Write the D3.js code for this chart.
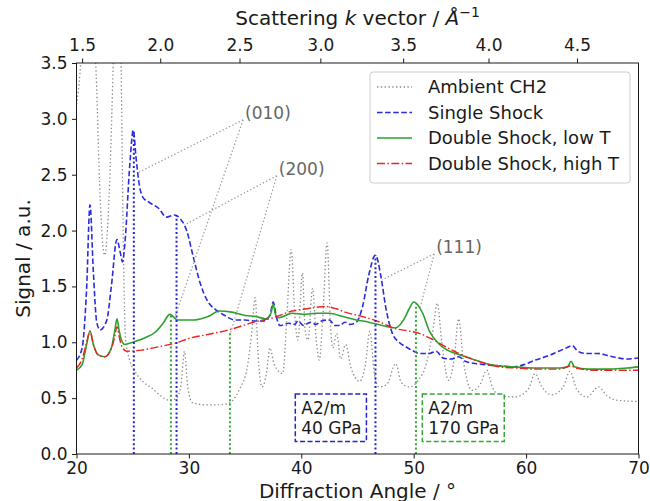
<!DOCTYPE html>
<html><head><meta charset="utf-8">
<script src="https://cdn.jsdelivr.net/npm/d3@7"></script>
<style>body{margin:0;background:#fff}svg{display:block;font-family:"DejaVu Sans",sans-serif}</style>
</head><body><svg id="c" width="650" height="501"></svg>
<script>
// ---------------- data ----------------
const ambientX = [20.0,20.3,20.6,21.0,21.4,21.75,22.1,22.5,22.9,23.3,23.6,23.95,24.15,24.35,24.7,25.2,26.0,26.7,27.5,28.3,28.9,29.3,29.6,29.9,30.3,31.5,32.5,33.4,33.9,34.5,35.2,35.6,35.9,36.15,36.5,36.9,37.2,37.6,38.35,38.7,39.1,39.45,39.7,40.1,40.35,40.6,41.0,41.35,41.6,41.9,42.3,42.6,42.8,43.15,43.5,43.95,44.4,45.2,45.7,46.1,46.5,46.9,47.6,48.4,48.9,49.6,50.4,51.1,51.7,52.1,52.5,53.1,53.6,54.0,54.4,55.2,55.9,56.5,57.0,57.5,59.0,60.2,60.8,61.4,62.3,63.3,63.9,64.5,65.4,66.45,67.2,68.2,70.0];
const ambientY = [3.13,3.4,3.9,4.4,4.0,3.4,2.3,1.78,2.3,3.6,4.6,3.6,2.0,1.05,0.85,0.74,0.64,0.59,0.52,0.48,0.5,0.62,0.92,0.6,0.46,0.44,0.44,0.45,0.48,0.58,0.78,1.1,1.4,0.9,0.6,0.72,0.95,0.8,0.72,1.2,1.83,1.2,1.02,1.62,1.1,1.02,1.48,1.0,0.84,1.2,1.89,1.15,0.95,1.08,0.85,0.98,0.78,0.65,0.8,1.1,0.72,0.6,0.62,0.81,0.64,0.6,0.66,0.8,1.1,1.35,1.0,0.66,0.85,1.21,0.85,0.57,0.62,0.75,0.6,0.53,0.51,0.58,0.72,0.6,0.53,0.6,0.74,0.58,0.51,0.6,0.52,0.48,0.47];

const singleX = [20.0,20.5,20.9,21.2,21.5,21.8,22.1,22.7,23.1,23.6,23.9,24.1,24.3,24.75,25.05,25.3,25.6,25.9,26.5,27.3,28.0,28.7,29.2,29.8,30.4,31.0,31.6,32.4,33.2,34.1,35.0,35.8,36.6,37.2,37.5,37.8,38.1,38.9,39.4,39.7,40.2,40.8,41.3,41.8,42.5,43.0,43.4,43.9,44.3,44.9,45.45,46.0,46.6,47.1,47.5,48.1,48.7,49.3,50.0,50.5,51.4,52.0,52.6,53.3,54.0,54.6,55.5,56.4,57.5,58.8,59.8,60.8,62.0,62.9,63.6,64.1,64.6,65.3,66.4,67.3,68.2,69.0,70.0];
const singleY = [0.84,0.95,1.48,2.23,1.63,1.18,1.11,1.2,1.5,1.92,1.8,1.72,1.88,2.6,2.9,2.65,2.4,2.3,2.25,2.2,2.12,2.14,2.11,2.0,1.76,1.53,1.38,1.29,1.24,1.2,1.2,1.19,1.19,1.24,1.36,1.22,1.15,1.17,1.16,1.19,1.15,1.18,1.16,1.19,1.2,1.15,1.15,1.18,1.16,1.18,1.32,1.6,1.78,1.58,1.32,1.08,1.0,0.96,0.92,0.9,0.9,0.92,0.86,0.85,0.87,0.83,0.81,0.8,0.79,0.78,0.8,0.84,0.88,0.92,0.95,0.97,0.92,0.9,0.9,0.88,0.86,0.85,0.86];

const lowTX = [20.0,20.5,20.9,21.2,21.5,21.9,22.5,23.1,23.4,23.6,23.8,24.0,24.3,25.0,26.1,27.0,27.7,28.3,29.0,30.5,31.7,32.7,33.8,35.0,36.0,36.8,37.3,37.5,37.7,38.0,39.2,40.3,41.3,42.5,43.7,44.9,46.0,47.2,48.4,49.1,49.6,50.0,50.4,50.8,51.4,52.3,53.0,54.0,55.2,56.4,57.5,58.8,60.8,63.0,63.7,64.0,64.3,65.5,67.5,69.0,70.0];
const lowTY = [0.75,0.8,0.98,1.1,0.98,0.89,0.87,0.95,1.1,1.21,1.1,1.02,0.98,1.0,1.04,1.09,1.17,1.25,1.2,1.2,1.23,1.28,1.27,1.24,1.23,1.21,1.26,1.34,1.25,1.22,1.26,1.25,1.26,1.26,1.23,1.2,1.18,1.15,1.13,1.2,1.3,1.36,1.33,1.26,1.1,0.98,0.93,0.89,0.85,0.81,0.79,0.78,0.77,0.77,0.78,0.83,0.78,0.76,0.76,0.77,0.78];

const highTX = [20.0,20.5,20.9,21.2,21.5,21.9,22.5,23.1,23.4,23.6,23.8,24.0,24.45,25.8,27.3,28.7,30.2,31.7,33.5,35.8,37.5,39.2,40.5,42.2,43.1,43.9,45.45,47.0,48.1,49.6,50.5,51.4,52.3,53.2,54.0,55.2,56.4,57.6,59.0,61.0,63.0,64.0,64.4,66.0,68.0,70.0];
const highTY = [0.77,0.85,1.0,1.1,0.98,0.89,0.87,0.94,1.05,1.14,1.05,0.97,0.92,0.93,0.96,0.99,1.04,1.07,1.11,1.18,1.22,1.28,1.3,1.32,1.3,1.27,1.23,1.18,1.13,1.1,1.08,1.04,0.99,0.94,0.9,0.85,0.81,0.78,0.77,0.76,0.76,0.79,0.77,0.75,0.75,0.75];

const seriesNames = ["Ambient CH2","Single Shock","Double Shock, low T","Double Shock, high T"];
const angleTicks = [20,30,40,50,60,70];
const signalTicks = [0.0,0.5,1.0,1.5,2.0,2.5,3.0,3.5];
const kTicks = [1.5,2.0,2.5,3.0,3.5,4.0,4.5];
const wavelength = 1.4907; // Å, for the k-axis

// reflection markers: angle, height, phase (1 = single shock, 2 = double shock)
const markerAngles = [25.1,28.4,28.9,33.65,46.6,50.2];
const markerTops   = [2.88,1.25,2.14,1.09,1.78,1.34];
const markerPhase  = [1,2,1,2,1,2];

const peakLabels = ["(010)","(200)","(111)"];
const peakLabelX = [35,38,52];
const peakLabelY = [3.0,2.5,1.8];
const peakTargetsX = [[25.5,28.8],[29.6,33.7],[47.2,50.6]];
const peakTargetsY = [[2.52,1.24],[2.05,1.08],[1.56,1.32]];

const phaseText = [["A2/m","40 GPa"],["A2/m","170 GPa"]];
const phaseTextX = [40.0,51.3];
const phaseTextY = [0.175,0.175];

// ---------------- drawing ----------------
const svg = d3.select("#c");
const L = 76.5, R = 638.5, T = 63, B = 454;
const x = d3.scaleLinear().domain([20,70]).range([L,R]);
const y = d3.scaleLinear().domain([0,3.5]).range([B,T]);
const ink = "#1a1a1a";

svg.append("defs").append("clipPath").attr("id","clip")
  .append("rect").attr("x",L).attr("y",T).attr("width",R-L).attr("height",B-T);

const styles = [
  {stroke:"#8c8c8c", w:1.3, dash:"1.4,2.4"},
  {stroke:"#2b2be0", w:1.6, dash:"5.5,2.6"},
  {stroke:"#2ea02e", w:1.6, dash:null},
  {stroke:"#ee2222", w:1.4, dash:"8,2.4,1.5,2.4"}
];
const seriesData = [
  d3.zip(ambientX, ambientY), d3.zip(singleX, singleY),
  d3.zip(lowTX, lowTY), d3.zip(highTX, highTY)
];
const line = d3.line().x(d=>x(d[0])).y(d=>y(d[1])).curve(d3.curveMonotoneX);
const plot = svg.append("g").attr("clip-path","url(#clip)");
seriesData.forEach((d,i)=>{
  const s = styles[i];
  plot.append("path").attr("d",line(d)).attr("fill","none")
    .attr("stroke",s.stroke).attr("stroke-width",s.w)
    .attr("stroke-dasharray",s.dash).attr("stroke-linejoin","round");
});

// markers
const markerColor = {1:"#2424cc",2:"#35a835"};
markerAngles.forEach((a,i)=>{
  plot.append("line").attr("x1",x(a)).attr("x2",x(a)).attr("y1",y(0)).attr("y2",y(markerTops[i]))
    .attr("stroke",markerColor[markerPhase[i]]).attr("stroke-width",2).attr("stroke-dasharray","2,2.4");
});

// annotations
peakLabels.forEach((t,i)=>{
  peakTargetsX[i].forEach((tx,j)=>{
    svg.append("line").attr("x1",x(peakLabelX[i])-2).attr("y1",y(peakLabelY[i])+1)
      .attr("x2",x(tx)).attr("y2",y(peakTargetsY[i][j]))
      .attr("stroke","#999").attr("stroke-width",1.2).attr("stroke-dasharray","1.4,2.2");
  });
  svg.append("text").attr("x",x(peakLabelX[i])).attr("y",y(peakLabelY[i]))
    .attr("font-size",17).attr("fill","#666").text(t);
});

// phase boxes
const boxColor = ["#2424cc","#35a835"];
phaseText.forEach((lines,i)=>{
  const g = svg.append("g");
  const t = g.append("text").attr("font-size",17).attr("fill",ink);
  lines.forEach((ln,j)=>{
    t.append("tspan").attr("x",x(phaseTextX[i]))
     .attr("y",y(phaseTextY[i]) - (lines.length-1-j)*20.5).text(ln);
  });
  const bb = t.node().getBBox();
  g.insert("rect","text").attr("x",bb.x-6).attr("y",bb.y-4).attr("width",bb.width+11).attr("height",bb.height+7)
    .attr("fill","#fff").attr("stroke",boxColor[i]).attr("stroke-width",1.5).attr("stroke-dasharray","5,2.5");
});

// axes
const fs = 17;
const ax = svg.append("g").attr("transform",`translate(0,${B})`)
  .call(d3.axisBottom(x).tickValues(angleTicks).tickSize(4.5).tickPadding(3.5).tickFormat(d3.format("d")));
const ay = svg.append("g").attr("transform",`translate(${L},0)`)
  .call(d3.axisLeft(y).tickValues(signalTicks).tickSize(4.5).tickPadding(4.5).tickFormat(d3.format(".1f")));
const kToAngle = k => 2*Math.asin(k*wavelength/(4*Math.PI))*180/Math.PI;
const at = svg.append("g").attr("transform",`translate(0,${T})`)
  .call(d3.axisTop(x).tickValues(kTicks.map(kToAngle)).tickSize(4.5).tickPadding(8)
    .tickFormat((d,i)=>kTicks[i].toFixed(1)));
[ax,ay,at].forEach(g=>{
  g.selectAll("text").attr("font-size",fs).attr("fill",ink).attr("font-family","DejaVu Sans");
  g.selectAll("line").attr("stroke",ink).attr("stroke-width",1);
  g.select(".domain").remove();
});
// frame
svg.append("rect").attr("x",L).attr("y",T).attr("width",R-L).attr("height",B-T)
  .attr("fill","none").attr("stroke",ink).attr("stroke-width",1);

// axis titles
svg.append("text").attr("x",(L+R)/2).attr("y",497.5).attr("text-anchor","middle")
  .attr("font-size",20).attr("fill",ink).text("Diffraction Angle / °");
svg.append("text").attr("transform",`translate(30,${(T+B)/2}) rotate(-90)`).attr("text-anchor","middle")
  .attr("font-size",20).attr("fill",ink).text("Signal / a.u.");
const tt = svg.append("text").attr("x",(L+R)/2).attr("y",25).attr("text-anchor","middle")
  .attr("font-size",20).attr("fill",ink);
tt.append("tspan").text("Scattering ");
tt.append("tspan").attr("font-style","italic").text("k");
tt.append("tspan").text(" vector / ");
tt.append("tspan").attr("font-style","italic").text("Å");
tt.append("tspan").attr("font-size",14).attr("dy",-8).text("−1");

// legend
const lg = svg.append("g");
lg.append("rect").attr("x",370).attr("y",72).attr("width",260).attr("height",111).attr("rx",3)
  .attr("fill","#fff").attr("fill-opacity",0.85).attr("stroke","#cccccc").attr("stroke-width",1);
seriesNames.forEach((n,i)=>{
  const yy = 87 + i*25.5, s = styles[i];
  lg.append("line").attr("x1",377).attr("x2",412).attr("y1",yy).attr("y2",yy)
    .attr("stroke",s.stroke).attr("stroke-width",s.w).attr("stroke-dasharray",s.dash);
  lg.append("text").attr("x",428).attr("y",yy).attr("dy","0.36em").attr("font-size",18)
    .attr("fill",ink).text(n);
});
</script></body></html>
